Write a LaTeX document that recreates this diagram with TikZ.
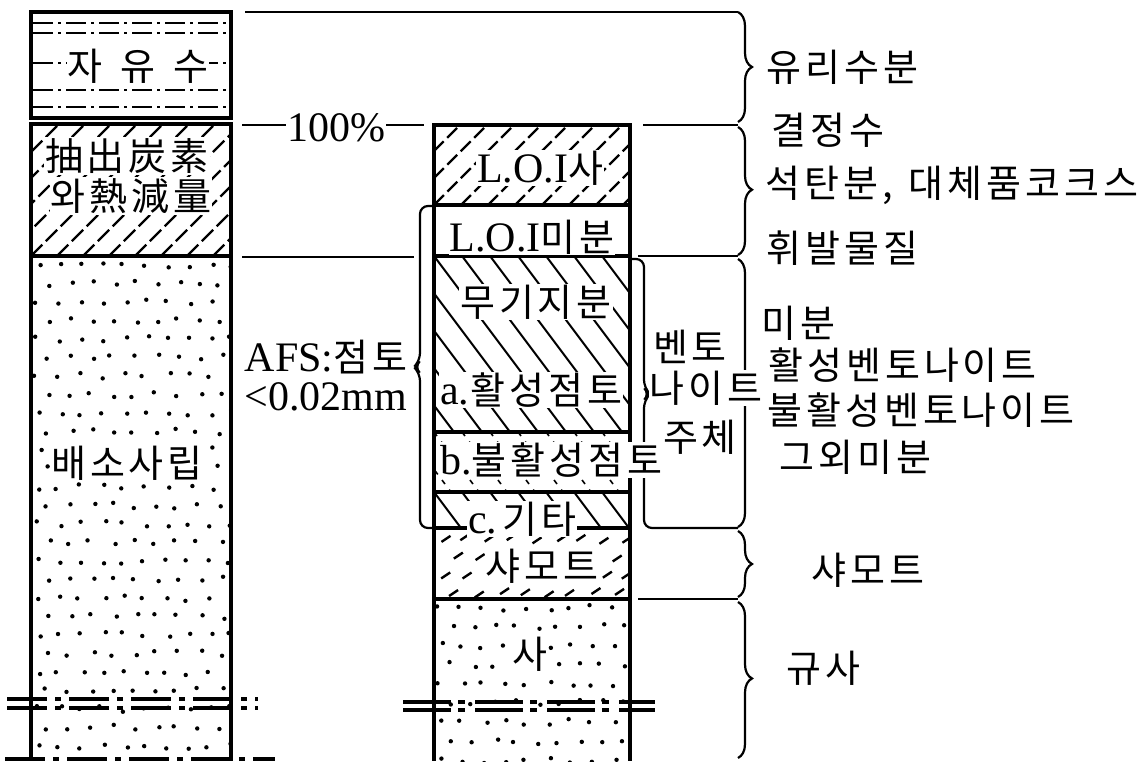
\documentclass[tikz,border=0pt]{standalone}
\usepackage{fontspec}
\setmainfont{Liberation Serif}
\newfontfamily\krf{Noto Sans CJK KR}
\usetikzlibrary{decorations.pathreplacing}
% letter-spaced Korean: first char, then kern before each following token
\def\spcfirst#1{#1\spcnext}
\def\spcnext#1{\ifx#1\relax\else\kern4pt#1\expandafter\spcnext\fi}
\newcommand\KS[1]{\spcfirst#1\relax}
\newcommand\K[1]{{\krf\fontsize{38}{42}\selectfont\KS{#1}}}
% "/" hatching: x0 y0 x1 y1 spacing style
\newcommand\hatchfwd[6]{\begin{scope}\clip (#1,#2) rectangle (#3,#4);
  \foreach \k in {-14,...,14} {\draw[#6] ({#1+\k*#5},#4) -- ++(300,-300);}\end{scope}}
% "\" hatching
\newcommand\hatchbwd[6]{\begin{scope}\clip (#1,#2) rectangle (#3,#4);
  \foreach \k in {-14,...,14} {\draw[#6] ({#1+\k*#5},#2) -- ++(225,300);}\end{scope}}
\begin{document}
\begin{tikzpicture}[x=1pt,y=-1pt,
  col/.style={line width=3.4pt},
  conn/.style={line width=2.6pt},
  brc/.style={line width=2.2pt,decorate,decoration={brace,amplitude=14pt,aspect=#1}},
  dd/.style={line width=2.5pt,dash pattern=on 20pt off 5pt on 3pt off 5pt},
  brk/.style={line width=3.6pt,dash pattern=on 40pt off 8pt on 6pt off 8pt},
  brkr/.style={line width=3.6pt,dash pattern=on 48pt off 7pt on 7pt off 10pt},
  txt/.style={fill=white,inner sep=1pt,font=\fontsize{42}{46}\selectfont},
  kt/.style={fill=white,inner sep=1pt,font=\krf\fontsize{38}{42}\selectfont},
  lab/.style={inner sep=1pt,anchor=west,font=\krf\fontsize{38}{42}\selectfont}]
\useasboundingbox (0,0) rectangle (1140,761);
\fill[white] (0,0) rectangle (1140,761);

% ---------- patterns, left column ----------
\foreach \yy in {23,33,63,90,107} \draw[dd] (33,\yy) -- (230,\yy);
\hatchfwd{31}{124}{231}{256}{26}{line width=2.2pt,dash pattern=on 16pt off 5pt}
\begin{scope}
\clip (31,256) rectangle (231,761);
\pgfmathsetseed{11}
\foreach \r in {0,...,26}{\foreach \c in {0,...,9}{
  \pgfmathsetmacro\xx{38+\c*21.5+mod(\r,2)*10.5+4*rand}
  \pgfmathsetmacro\yy{265+\r*18.5+3*rand}
  \fill (\xx,\yy) circle (2.2pt);}}
\end{scope}

% ---------- patterns, right column ----------
\hatchfwd{434}{125}{630}{205}{27}{line width=2.2pt,dash pattern=on 14pt off 5pt}
\hatchbwd{434}{256}{630}{432}{28}{line width=2pt}
\hatchbwd{434}{432}{630}{492}{28}{line width=1.6pt,dash pattern=on 5pt off 7pt}
\hatchbwd{434}{492}{630}{528}{28}{line width=2pt}
\begin{scope}
\clip (434,528) rectangle (630,599);
\pgfmathsetseed{5}
\foreach \r in {0,...,3}{\foreach \c in {0,...,8}{
  \pgfmathsetmacro\xx{440+\c*23+mod(\r,2)*11.5+3*rand}
  \pgfmathsetmacro\yy{542+\r*18+2*rand}
  \draw[line width=2.4pt] (\xx,\yy) -- ++(9,-6);}}
\end{scope}
\begin{scope}
\clip (434,599) rectangle (630,761);
\pgfmathsetseed{23}
\foreach \r in {0,...,8}{\foreach \c in {0,...,9}{
  \pgfmathsetmacro\xx{441+\c*21.5+mod(\r,2)*10.5+4*rand}
  \pgfmathsetmacro\yy{608+\r*19+3*rand}
  \fill (\xx,\yy) circle (2.2pt);}}
\end{scope}

% ---------- outlines ----------
\draw[col] (31,12) rectangle (231,118);
\draw[col] (31,124) rectangle (231,256);
\draw[col] (31,256) -- (31,761) (231,256) -- (231,761);
\draw[col] (434,125) rectangle (630,205);
\draw[col] (434,205) -- (434,761) (630,205) -- (630,761);
\foreach \yy in {256,432,492,528,599} \draw[col] (434,\yy) -- (630,\yy);

% breaks
\draw[brk] (7,699) -- (258,699);
\draw[brk] (7,708) -- (258,708);
\draw[brk] (5,759) -- (275,759);
\draw[brkr] (403,702) -- (655,702);
\draw[brkr] (403,710) -- (655,710);

% ---------- brackets and braces ----------
\draw[line width=2.2pt,rounded corners=8pt] (434,206) -| (420,361) -- (414,367) -- (420,373) |- (434,528);
\draw[line width=2.2pt,rounded corners=8pt] (630,259) -| (644,388) -- (650,394) -- (644,400) |- (738,528);
\draw[brc=0.5] (738,12) -- (738,122);
\draw[brc=0.49] (738,127) -- (738,255);
\draw[brc=0.5] (738,259) -- (738,527);
\draw[brc=0.5] (738,531) -- (738,597);
\draw[brc=0.49] (738,602) -- (738,758);

% ---------- text ----------
\node[kt] (jys) at (138,66) {자\hspace{18pt}유\hspace{18pt}수};
\node[kt] (chu) at (127,156) {\KS{抽出炭素}};
\node[kt] (wa) at (131,196) {\KS{와熱減量}};
\node[kt] (bae) at (127,463) {\KS{배소사립}};
\node[txt] (t100) at (336,128) {100\%};
\node[txt] (afs) at (326,357) {AFS:\K{점토}};
\node[txt] (mm) at (326,397) {<0.02mm};

\node[txt] (loisa) at (540,168) {L.O.I\K{사}};
\node[txt] (loimi) at (532,237) {L.O.I\K{미분}};
\node[kt] (mugi) at (536,302) {\KS{무기지분}};
\node[txt,anchor=west] (act) at (439,390) {a.\kern1pt\K{활성점토}};
\node[txt,anchor=west] (inact) at (439,460) {b.\K{불활성점토}};
\node[txt,anchor=west] (etc) at (467,519) {c.\kern5pt\K{기타}};
\node[kt] (cham) at (542,566) {\KS{샤모트}};
\node[kt] (sa) at (530,654) {사};

\node[kt] (ben1) at (690,347) {\KS{벤토}};
\node[kt] (ben2) at (706,388) {\KS{나이트}};
\node[kt] (ben3) at (700,437) {\KS{주체}};

\node[lab] (r1) at (765,67) {\KS{유리수분}};
\node[lab] (r2) at (770,130) {\KS{결정수}};
\node[lab] (r3) at (764,185) {\KS{석탄분,}\kern16pt\KS{대체품코크스}};
\node[lab] (r4) at (765,248) {\KS{휘발물질}};
\node[lab] (r5) at (760,323) {\KS{미분}};
\node[lab,fill=white] (r6) at (767,365) {\KS{활성벤토나이트}};
\node[lab,fill=white] (r7) at (766,410) {\KS{불활성벤토나이트}};
\node[lab] (r8) at (778,457) {\KS{그외미분}};
\node[lab] (r9) at (810,570) {\KS{샤모트}};
\node[lab] (r10) at (785,668) {\KS{규사}};

% ---------- horizontal connectors ----------
\coordinate (topL) at (245,12);
\coordinate (topR) at (738,12);
\coordinate (hL) at (242,125);
\coordinate (hR) at (424,125);
\coordinate (h2L) at (643,125);
\coordinate (h2R) at (738,125);
\coordinate (gL) at (242,257);
\coordinate (gR) at (414,257);
\coordinate (g2L) at (638,256);
\coordinate (g2R) at (738,256);
\coordinate (sL) at (638,599);
\coordinate (sR) at (738,599);
\draw[conn] (topL) -- (topR);
\draw[conn] (hL) -- (hL -| t100.west);
\draw[conn] (hR -| t100.east) -- (hR);
\draw[conn] (h2L) -- (h2R);
\draw[conn] (gL) -- (gR);
\draw[conn] (g2L) -- (g2R);
\draw[conn] (sL) -- (sR);
\end{tikzpicture}
\end{document}
